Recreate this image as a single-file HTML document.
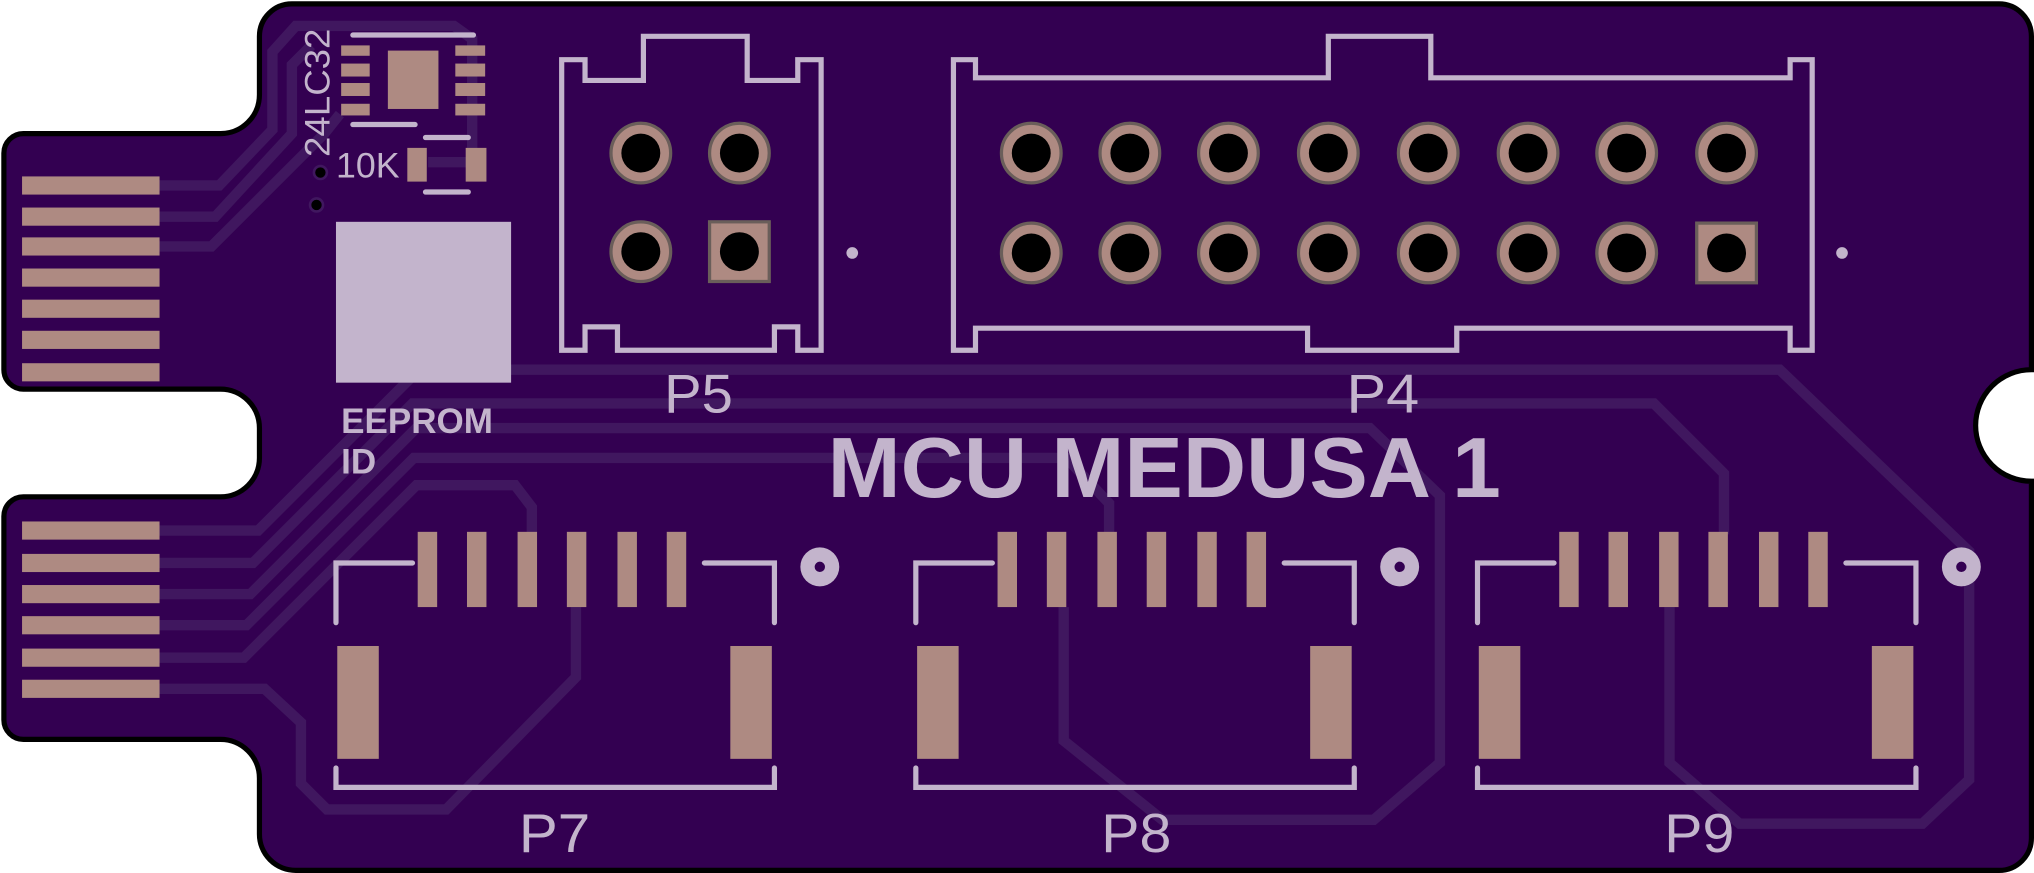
<!DOCTYPE html>
<html><head><meta charset="utf-8"><style>
html,body{margin:0;padding:0;background:#fff;}
svg{display:block;}
</style></head><body>
<svg width="2034" height="873" viewBox="0 0 1568 673" preserveAspectRatio="none" xmlns="http://www.w3.org/2000/svg">
<path d="M225,3 H1541 A25,25 0 0 1 1566,28 V285 A43,43 0 0 0 1566,371 V646 A25,25 0 0 1 1541,671 H228 A28,28 0 0 1 200,643 V600 A30,30 0 0 0 170,570 H18 A15,15 0 0 1 3,555 V398 A15,15 0 0 1 18,383 H170 A30,30 0 0 0 200,353 V330 A30,30 0 0 0 170,300 H18 A15,15 0 0 1 3,285 V118 A15,15 0 0 1 18,103 H170 A30,30 0 0 0 200,73 V28 A25,25 0 0 1 225,3 Z" fill="#330051" stroke="#000" stroke-width="4"/>
<g fill="none" stroke="#40175f" stroke-width="8" stroke-linejoin="miter">
<path d="M120,143 H169 L210,100 V40 L228,20 H350 L364,30 V125 H330"/>
<path d="M120,167 H166 L225,103 V50 L240,35"/>
<path d="M120,190 H163 L250,103 L262,88"/>
<path d="M120,409 H199 L323,285 H1372 L1518,425 V601 L1482,635 H1341 L1287,588 V468"/>
<path d="M120,434 H195 L318,311 H1275 L1329,365 V412"/>
<path d="M120,458 H193 L321,330 H1056 L1110,382 V588 L1059,632 H896 L820,571 V468"/>
<path d="M120,482 H190 L319,353 H822 L855,388 V412"/>
<path d="M120,507 H188 L321,374 H397 L410,391 V412"/>
<path d="M120,531 H204 L232,557 V604 L252,624 H344 L444,522 V468"/>
</g>
<g fill="#ae8a82">
<rect x="17" y="136" width="106" height="14"/><rect x="17" y="160" width="106" height="14"/><rect x="17" y="183" width="106" height="14"/><rect x="17" y="207" width="106" height="14"/><rect x="17" y="231" width="106" height="14"/><rect x="17" y="255" width="106" height="14"/><rect x="17" y="280" width="106" height="14"/>
<rect x="17" y="402" width="106" height="14"/><rect x="17" y="427" width="106" height="14"/><rect x="17" y="451" width="106" height="14"/><rect x="17" y="475" width="106" height="14"/><rect x="17" y="500" width="106" height="14"/><rect x="17" y="524" width="106" height="14"/>
<rect x="263" y="35" width="22" height="8"/><rect x="263" y="49" width="22" height="10"/><rect x="263" y="64" width="22" height="10"/><rect x="263" y="80" width="22" height="9"/>
<rect x="351" y="35" width="23" height="8"/><rect x="351" y="49" width="23" height="10"/><rect x="351" y="64" width="23" height="10"/><rect x="351" y="80" width="23" height="9"/>
<rect x="299" y="39" width="39" height="45"/>
<rect x="314" y="114" width="15" height="26"/><rect x="359" y="114" width="16" height="26"/>
</g>
<g stroke="#c3b4cc" stroke-width="4" fill="none" stroke-linecap="round">
<line x1="272" y1="27" x2="365" y2="27"/><line x1="272" y1="96" x2="320" y2="96"/>
<line x1="328" y1="106" x2="361" y2="106"/><line x1="328" y1="148" x2="361" y2="148"/>
<path d="M433,46 H451 V62 H496 V28 H576 V62 H615 V46 H633 V270 H615 V252 H597 V270 H476 V252 H451 V270 H433 Z"/>
<path d="M735,46 H752 V60 H1024 V28 H1103 V60 H1380 V46 H1397 V270 H1380 V253 H1123 V270 H1008 V253 H752 V270 H735 Z"/>
<g id="br"><path d="M259,480 V434 H318 M543,434 H597 V480 M259,592 V607 H597 V592"/></g>
<use href="#br" x="447"/><use href="#br" x="880"/>
</g>
<rect x="259" y="171" width="135" height="124" fill="#c3b4cc"/>
<g fill="#c3b4cc">
<circle cx="632" cy="437" r="15"/><circle cx="1079" cy="437" r="15"/><circle cx="1512" cy="437" r="15"/>
<circle cx="657" cy="195" r="4.5"/><circle cx="1420" cy="195" r="4.5"/>
</g>
<g fill="#330051"><circle cx="632" cy="437" r="4"/><circle cx="1079" cy="437" r="4"/><circle cx="1512" cy="437" r="4"/></g>
<g fill="#000" stroke="#40175f" stroke-width="2"><circle cx="247" cy="133" r="5"/><circle cx="244" cy="158" r="5"/></g>
<g id="pp" fill="#ae8a82">
<rect x="322" y="410" width="15" height="58"/><rect x="360" y="410" width="15" height="58"/><rect x="399" y="410" width="15" height="58"/><rect x="437" y="410" width="15" height="58"/><rect x="476" y="410" width="15" height="58"/><rect x="514" y="410" width="15" height="58"/>
<rect x="260" y="498" width="32" height="87"/><rect x="563" y="498" width="32" height="87"/>
</g>
<use href="#pp" x="447"/><use href="#pp" x="880"/>
<g fill="#ae8a82" stroke="#6a5e5a" stroke-width="2.5">
<circle cx="494" cy="118" r="23"/><circle cx="570" cy="118" r="23"/><circle cx="494" cy="194" r="23"/><rect x="547" y="171" width="46" height="46"/>
<circle cx="795" cy="118" r="23"/><circle cx="871" cy="118" r="23"/><circle cx="947" cy="118" r="23"/><circle cx="1024" cy="118" r="23"/><circle cx="1101" cy="118" r="23"/><circle cx="1178" cy="118" r="23"/><circle cx="1254" cy="118" r="23"/><circle cx="1331" cy="118" r="23"/>
<circle cx="795" cy="195" r="23"/><circle cx="871" cy="195" r="23"/><circle cx="947" cy="195" r="23"/><circle cx="1024" cy="195" r="23"/><circle cx="1101" cy="195" r="23"/><circle cx="1178" cy="195" r="23"/><circle cx="1254" cy="195" r="23"/><rect x="1308" y="172" width="46" height="46"/>
</g>
<g fill="#000">
<circle cx="494" cy="118" r="15"/><circle cx="570" cy="118" r="15"/><circle cx="494" cy="194" r="15"/><circle cx="570" cy="194" r="15"/>
<circle cx="795" cy="118" r="15"/><circle cx="871" cy="118" r="15"/><circle cx="947" cy="118" r="15"/><circle cx="1024" cy="118" r="15"/><circle cx="1101" cy="118" r="15"/><circle cx="1178" cy="118" r="15"/><circle cx="1254" cy="118" r="15"/><circle cx="1331" cy="118" r="15"/>
<circle cx="795" cy="195" r="15"/><circle cx="871" cy="195" r="15"/><circle cx="947" cy="195" r="15"/><circle cx="1024" cy="195" r="15"/><circle cx="1101" cy="195" r="15"/><circle cx="1178" cy="195" r="15"/><circle cx="1254" cy="195" r="15"/><circle cx="1331" cy="195" r="15"/>
</g>
<g fill="#c3b4cc" font-family="'Liberation Sans', sans-serif">
<text x="638" y="383" font-size="66" font-weight="bold" textLength="519" lengthAdjust="spacingAndGlyphs">MCU MEDUSA 1</text>
<text x="512" y="318" font-size="42" textLength="53" lengthAdjust="spacingAndGlyphs">P5</text>
<text x="1038" y="318" font-size="42" textLength="56" lengthAdjust="spacingAndGlyphs">P4</text>
<text x="400" y="657" font-size="42" textLength="55" lengthAdjust="spacingAndGlyphs">P7</text>
<text x="849" y="657" font-size="42" textLength="54" lengthAdjust="spacingAndGlyphs">P8</text>
<text x="1283" y="657" font-size="42" textLength="54" lengthAdjust="spacingAndGlyphs">P9</text>
<text x="263" y="334" font-size="27" font-weight="bold" textLength="117" lengthAdjust="spacingAndGlyphs">EEPROM</text>
<text x="263" y="365" font-size="27" font-weight="bold" textLength="27" lengthAdjust="spacingAndGlyphs">ID</text>
<text x="259" y="137" font-size="27" textLength="49" lengthAdjust="spacingAndGlyphs">10K</text>
<text transform="translate(254,121) rotate(-90)" font-size="27" textLength="99" lengthAdjust="spacingAndGlyphs">24LC32</text>
</g>
</svg>
</body></html>
